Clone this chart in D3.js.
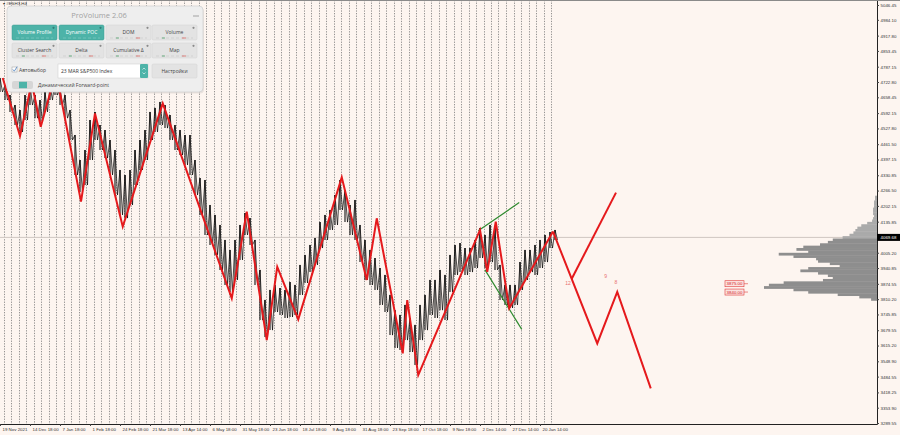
<!DOCTYPE html>
<html>
<head>
<meta charset="utf-8">
<script src="https://cdn.jsdelivr.net/npm/d3@7/dist/d3.min.js"></script>
<style>
  body { margin: 0; background: #fdf5f0; }
  svg { display: block; font-family: "Liberation Sans", Arial, sans-serif; }
  .panel text { font-family: "Open Sans", "Noto Sans", sans-serif; }
</style>
</head>
<body>
<svg id="chart" width="900" height="435"></svg>
<script>
// price scale labels (right axis)
var priceTicks = [5046.45, 4984.10, 4917.80, 4853.45, 4787.15, 4722.80, 4658.45, 4592.15,
  4527.80, 4461.50, 4397.15, 4330.85, 4266.50, 4202.15, 4135.85, 4005.20, 3940.85,
  3874.55, 3810.20, 3745.85, 3679.55, 3615.20, 3548.90, 3484.55, 3418.25, 3353.90, 3289.55];
var lastPrice = 4069.68;

// time scale labels, bar index of each label
var dateLabels = ["19 Nov 2021", "14 Dec 18:00", "7 Jan 18:00", "1 Feb 18:00", "24 Feb 18:00",
  "21 Mar 18:00", "13 Apr 14:00", "6 May 18:00", "31 May 18:00", "23 Jun 18:00", "18 Jul 18:00",
  "9 Aug 18:00", "31 Aug 18:00", "23 Sep 18:00", "17 Oct 18:00", "9 Nov 18:00", "2 Dec 14:00",
  "27 Dec 14:00", "20 Jan 14:00"];
var labelBars = [0, 120, 240, 360, 480, 600, 720, 840, 960, 1080, 1200, 1320, 1440, 1560,
  1680, 1800, 1920, 2040, 2160];

// price bars, one high/low sample every 20 bars
var barStep = 20;
var barHigh = [4740, 4710, 4668, 4626, 4605, 4668, 4710, 4668, 4647, 4681, 4710, 4731, 4698, 4668,
  4605, 4500, 4395, 4437, 4563, 4597, 4542, 4521, 4479, 4437, 4353, 4332, 4353, 4437, 4479, 4521,
  4597, 4614, 4639, 4626, 4584, 4542, 4521, 4500, 4500, 4395, 4319, 4311, 4206, 4164, 4122, 4059,
  4017, 4059, 4122, 4172, 4151, 4059, 3933, 3807, 3849, 3870, 3857, 3849, 3882, 3870, 3954, 3996,
  4038, 4067, 4134, 4164, 4185, 4248, 4311, 4269, 4206, 4227, 4122, 4059, 4017, 3983, 3941, 3912,
  3828, 3764, 3744, 3786, 3731, 3702, 3786, 3828, 3891, 3891, 3933, 3912, 3996, 4038, 4046, 4025,
  4025, 4059, 4109, 4080, 4122, 4109, 3954, 3870, 3870, 3870, 3966, 4017, 4017, 4038, 4059, 4080,
  4092, 4101];
var barLow = [4681, 4647, 4597, 4542, 4513, 4563, 4626, 4571, 4555, 4597, 4647, 4668, 4626, 4571,
  4479, 4332, 4260, 4290, 4395, 4479, 4437, 4403, 4332, 4248, 4164, 4151, 4206, 4290, 4353, 4395,
  4479, 4513, 4542, 4529, 4479, 4437, 4416, 4374, 4332, 4248, 4164, 4080, 4038, 3996, 3933, 3870,
  3840, 3891, 3975, 4080, 4038, 3870, 3722, 3651, 3680, 3756, 3744, 3731, 3735, 3744, 3828, 3878,
  3924, 3954, 4025, 4059, 4101, 4122, 4185, 4134, 4080, 4059, 3966, 3891, 3870, 3849, 3786, 3756,
  3659, 3605, 3596, 3638, 3588, 3533, 3638, 3680, 3744, 3731, 3764, 3722, 3840, 3912, 3924, 3912,
  3924, 3941, 3983, 3941, 3966, 3933, 3807, 3786, 3773, 3786, 3849, 3891, 3924, 3912, 3941, 3966,
  4025, 4059];

// zigzag (red)
var zigBars = [11, 80, 127, 163, 224, 324, 380, 491, 651, 927, 987, 1067, 1109, 1193, 1367,
  1467, 1507, 1611, 1629, 1673, 1920, 1949, 1983, 2037, 2212];
var zigPrices = [4740, 4496, 4720, 4535, 4765, 4220, 4591, 4115, 4633, 3814, 4178, 3638, 3946,
  3725, 4322, 3891, 4150, 3582, 3806, 3491, 4101, 3925, 4136, 3772, 4094];

// forward projection (red)
var fwdBars = [2212, 2389, 2469, 2603];
var fwdPrices = [4094, 3624, 3841, 3435];
var branchBars = [2287, 2464];
var branchPrices = [3896, 4258];
var waveMarks = [{ bar: 2272, price: 3870, text: "12" }, { bar: 2423, price: 3898, text: "9" },
  { bar: 2464, price: 3873, text: "8" }];

// green wedge lines
var wedgeTop = { bars: [1913, 2077], prices: [4098, 4216] };
var wedgeBottom = { bars: [1940, 2087], prices: [3933, 3683] };

// price levels with labels
var levelPrices = [3875.00, 3840.00];

// volume profile
var profilePrices = [4240, 4230, 4220, 4210, 4200, 4190, 4180, 4170, 4160, 4150, 4140, 4130, 4120,
  4110, 4100, 4090, 4080, 4070, 4060, 4050, 4040, 4030, 4020, 4010, 4000, 3990, 3980, 3970, 3960,
  3950, 3940, 3930, 3920, 3910, 3900, 3890, 3880, 3870, 3860, 3850, 3840, 3830, 3820, 3810];
var profileVolumes = [2, 2, 3, 3, 3, 4, 4, 4, 3, 4, 5, 10, 16, 20, 22, 24, 28, 35, 45, 50, 58, 75, 82,
  70, 100, 85, 62, 60, 48, 38, 70, 78, 60, 50, 45, 55, 95, 110, 115, 85, 70, 40, 18, 6];

var plotRight = 877, plotBottom = 424;
var svg = d3.select("#chart");

var x = d3.scaleLinear().domain([0, 3508]).range([0, plotRight]);
var y = d3.scaleLinear().domain([3285.4, 5067.5]).range([plotBottom, 0]);
var vx = d3.scaleLinear().domain([0, d3.max(profileVolumes)]).range([0, 113]);

svg.append("rect").attr("width", 900).attr("height", 435).attr("fill", "#fdf5f0");

// weekly separators
svg.append("g").selectAll("line")
  .data(d3.range(14, 2230, 30))
  .join("line")
  .attr("x1", function(d) { return Math.round(x(d)) + 0.5; })
  .attr("x2", function(d) { return Math.round(x(d)) + 0.5; })
  .attr("y1", 0).attr("y2", plotBottom)
  .attr("stroke", "#7a7a7a").attr("stroke-width", 0.8)
  .attr("stroke-dasharray", "1.3,1.3");

// last price line
svg.append("line")
  .attr("x1", 0).attr("x2", plotRight)
  .attr("y1", y(lastPrice)).attr("y2", y(lastPrice))
  .attr("stroke", "#cfc6c1").attr("stroke-width", 1);

// volume profile
var binH = Math.abs(y(0) - y(10));
svg.append("g").selectAll("rect")
  .data(profilePrices)
  .join("rect")
  .attr("x", function(d, i) { return plotRight - vx(profileVolumes[i]); })
  .attr("y", function(d) { return y(d + 5); })
  .attr("width", function(d, i) { return vx(profileVolumes[i]); })
  .attr("height", binH + 0.4)
  .attr("fill", function(d) { return d > lastPrice ? "#aaaaaa" : "#8e8e8e"; });

// price bars: vertical high-low strokes plus a thin trace between them
svg.append("g").selectAll("line")
  .data(barHigh)
  .join("line")
  .attr("x1", function(d, i) { return x(i * barStep); })
  .attr("x2", function(d, i) { return x(i * barStep); })
  .attr("y1", function(d) { return y(d); })
  .attr("y2", function(d, i) { return y(barLow[i]); })
  .attr("stroke", "#111").attr("stroke-width", 1.1);

var trace = [];
barHigh.forEach(function(h, i) {
  trace.push([x(i * barStep), y(h)]);
  trace.push([x(i * barStep + barStep / 2), y(barLow[i])]);
});
svg.append("path")
  .attr("d", d3.line()(trace))
  .attr("fill", "none").attr("stroke", "#000").attr("stroke-width", 0.7);

var lineXY = d3.line()
  .x(function(d) { return x(d[0]); })
  .y(function(d) { return y(d[1]); });

// green wedge
[wedgeTop, wedgeBottom].forEach(function(w) {
  svg.append("path")
    .attr("d", lineXY(d3.zip(w.bars, w.prices)))
    .attr("stroke", "#2f8a2f").attr("stroke-width", 1.2).attr("fill", "none");
});

// zigzag and projection
var red = "#e5191c";
svg.append("path").attr("d", lineXY(d3.zip(zigBars, zigPrices)))
  .attr("fill", "none").attr("stroke", red).attr("stroke-width", 2).attr("stroke-linejoin", "miter");
svg.append("path").attr("d", lineXY(d3.zip(fwdBars, fwdPrices)))
  .attr("fill", "none").attr("stroke", red).attr("stroke-width", 2);
svg.append("path").attr("d", lineXY(d3.zip(branchBars, branchPrices)))
  .attr("fill", "none").attr("stroke", red).attr("stroke-width", 2);

svg.append("g").selectAll("text")
  .data(waveMarks)
  .join("text")
  .attr("x", function(d) { return x(d.bar); })
  .attr("y", function(d) { return y(d.price); })
  .attr("text-anchor", "middle")
  .attr("font-size", 5).attr("fill", "#e87070")
  .text(function(d) { return d.text; });

// level labels
var lev = svg.append("g").selectAll("g")
  .data(levelPrices)
  .join("g")
  .attr("transform", function(d) { return "translate(" + x(2900) + "," + y(d) + ")"; });
lev.append("rect").attr("x", 0).attr("y", -3).attr("width", 19).attr("height", 6)
  .attr("fill", "#fbe3e0").attr("stroke", "#e03a3a").attr("stroke-width", 0.6);
lev.append("line").attr("x1", 19).attr("x2", 23).attr("y1", 0).attr("y2", 0)
  .attr("stroke", "#e03a3a").attr("stroke-width", 0.6);
lev.append("text").attr("x", 9.5).attr("y", 1.6).attr("text-anchor", "middle")
  .attr("font-size", 4.4).attr("fill", "#d42020")
  .text(function(d) { return d3.format(".2f")(d); });

// axes
var yAxis = svg.append("g")
  .attr("transform", "translate(" + plotRight + ",0)")
  .call(d3.axisRight(y).tickValues(priceTicks).tickSize(2).tickSizeOuter(0).tickFormat(d3.format(".2f")));
yAxis.select(".domain").attr("stroke", "#222");
yAxis.selectAll(".tick line").attr("stroke", "#444");
yAxis.selectAll("text").attr("font-size", 4.4).attr("fill", "#333").attr("x", 3.5);

var xAxis = svg.append("g")
  .attr("transform", "translate(0," + plotBottom + ")")
  .call(d3.axisBottom(x).tickValues(labelBars).tickSize(2).tickSizeOuter(0)
    .tickFormat(function(d, i) { return dateLabels[i]; }));
xAxis.select(".domain").attr("stroke", "#222");
xAxis.selectAll(".tick line").attr("stroke", "#444");
xAxis.selectAll("text").attr("font-size", 4.4).attr("fill", "#333")
  .attr("text-anchor", "start").attr("x", 2).attr("y", 4);

// current price box
svg.append("rect").attr("x", plotRight).attr("y", y(lastPrice) - 3.5)
  .attr("width", 23).attr("height", 7).attr("fill", "#000");
svg.append("text").attr("x", plotRight + 3.5).attr("y", y(lastPrice) + 1.6)
  .attr("font-size", 4.4).attr("fill", "#fff").text(d3.format(".2f")(lastPrice));

// top border and symbol caption
svg.append("line").attr("x1", 0).attr("x2", 900).attr("y1", 0.5).attr("y2", 0.5)
  .attr("stroke", "#8a8a8a");
svg.append("text").attr("x", 3).attr("y", 5).attr("font-size", 4.4).attr("fill", "#333")
  .text("▾ #ESH3,H4");

// ProVolume panel
var panel = svg.append("g").attr("class", "panel").attr("transform", "translate(7,6)");
panel.append("rect").attr("x", 1).attr("y", 1.5).attr("width", 196).attr("height", 86).attr("rx", 4)
  .attr("fill", "#000").attr("opacity", 0.08);
panel.append("rect").attr("width", 196).attr("height", 86).attr("rx", 4)
  .attr("fill", "#eeeeee").attr("stroke", "#d2d2d2").attr("stroke-width", 0.8);
panel.append("text").attr("x", 92).attr("y", 11.5).attr("text-anchor", "middle")
  .attr("font-size", 7.5).attr("fill", "#a2a2a2").text("ProVolume 2.06");
panel.append("line").attr("x1", 186).attr("x2", 192).attr("y1", 10).attr("y2", 10)
  .attr("stroke", "#999").attr("stroke-width", 0.9);

var buttons = [
  { label: "Volume Profile", active: true }, { label: "Dynamic POC", active: true },
  { label: "DOM", active: false }, { label: "Volume", active: false },
  { label: "Cluster Search", active: false }, { label: "Delta", active: false },
  { label: "Cumulative Δ", active: false }, { label: "Map", active: false }
];
var btnX = [5, 52, 99, 145], btnY = [19, 37];
buttons.forEach(function(b, i) {
  var bx = btnX[i % 4], by = btnY[Math.floor(i / 4)];
  var g = panel.append("g").attr("transform", "translate(" + bx + "," + by + ")");
  g.append("rect").attr("width", 45).attr("height", 15).attr("rx", 1.5)
    .attr("fill", b.active ? "#4db3a8" : "#e3e3e3")
    .attr("stroke", b.active ? "#3f9d93" : "#d0d0d0").attr("stroke-width", 0.5);
  g.append("circle").attr("cx", 41.5).attr("cy", 2.8).attr("r", 1.1)
    .attr("fill", b.active ? "#2f7f77" : "#8a8a8a");
  g.append("text").attr("x", 22.5).attr("y", 9).attr("text-anchor", "middle")
    .attr("font-size", 5).attr("fill", b.active ? "#fff" : "#444").text(b.label);
  g.append("line").attr("x1", 4).attr("x2", 41).attr("y1", 13).attr("y2", 13)
    .attr("stroke", b.active ? "#7fcac2" : "#c8c8c8").attr("stroke-width", 0.7)
    .attr("stroke-dasharray", "3,2");
  if (!b.active) {
    g.append("line").attr("x1", 30).attr("x2", 34).attr("y1", 13).attr("y2", 13)
      .attr("stroke", "#d9534f").attr("stroke-width", 0.7);
    g.append("line").attr("x1", 10).attr("x2", 13).attr("y1", 13).attr("y2", 13)
      .attr("stroke", "#3a9a5a").attr("stroke-width", 0.7);
  }
});

// checkbox row
panel.append("rect").attr("x", 5).attr("y", 61).attr("width", 5).attr("height", 5)
  .attr("fill", "#fff").attr("stroke", "#9a9a9a").attr("stroke-width", 0.5);
panel.append("path").attr("d", "M5.8,63.4 L7.3,65.2 L10.2,60.6")
  .attr("fill", "none").attr("stroke", "#4a7fbf").attr("stroke-width", 0.8);
panel.append("text").attr("x", 12).attr("y", 65.8).attr("font-size", 5).attr("fill", "#444")
  .text("Автовыбор");
panel.append("rect").attr("x", 51).attr("y", 58).attr("width", 90).attr("height", 14)
  .attr("fill", "#fff").attr("stroke", "#cccccc").attr("stroke-width", 0.5);
panel.append("text").attr("x", 54).attr("y", 66.8).attr("font-size", 5).attr("fill", "#333")
  .text("23 MAR S&P500 Index");
panel.append("rect").attr("x", 133).attr("y", 58).attr("width", 8).attr("height", 14)
  .attr("rx", 1).attr("fill", "#4db3a8");
panel.append("path").attr("d", "M135.5,63.5 L137,62 L138.5,63.5 M135.5,66.5 L137,68 L138.5,66.5")
  .attr("fill", "none").attr("stroke", "#fff").attr("stroke-width", 0.6);
panel.append("rect").attr("x", 145).attr("y", 58).attr("width", 45).attr("height", 14)
  .attr("rx", 1.5).attr("fill", "#e3e3e3").attr("stroke", "#d0d0d0").attr("stroke-width", 0.5);
panel.append("text").attr("x", 167.5).attr("y", 66.8).attr("text-anchor", "middle")
  .attr("font-size", 5).attr("fill", "#444").text("Настройки");

// toggle row
panel.append("rect").attr("x", 5).attr("y", 75).attr("width", 21).attr("height", 8)
  .attr("rx", 2).attr("fill", "#d6d6d6");
panel.append("rect").attr("x", 12).attr("y", 75.8).attr("width", 8).attr("height", 6.4)
  .attr("fill", "#4db3a8");
panel.append("text").attr("x", 31).attr("y", 81).attr("font-size", 5).attr("fill", "#444")
  .text("Динамический Forward-point");
</script>
</body>
</html>
